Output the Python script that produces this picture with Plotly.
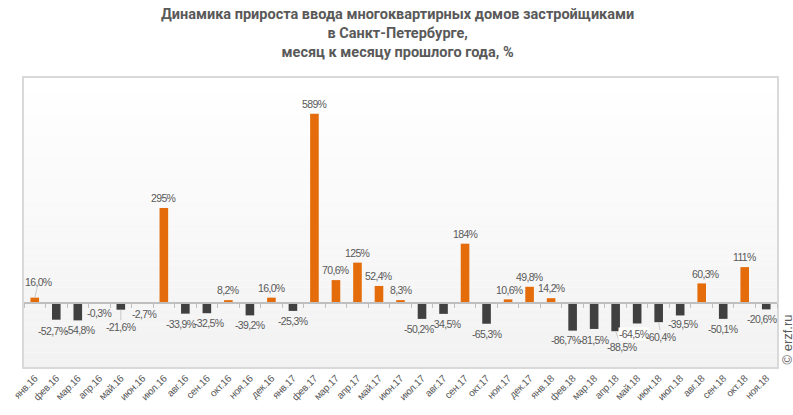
import plotly.graph_objects as go

# ---- data ----
months = ["янв", "фев", "мар", "апр", "май", "июн", "июл", "авг", "сен", "окт", "ноя", "дек"]
categories = [f"{m}.{y}" for y in ("16", "17") for m in months] + [f"{m}.18" for m in months[:11]]
values = [16.0, -52.7, -54.8, -0.3, -21.6, -2.7, 295, -33.9, -32.5, 8.2, -39.2, 16.0,
          -25.3, 589, 70.6, 125, 52.4, 8.3, -50.2, -34.5, 184, -65.3, 10.6, 49.8,
          14.2, -86.7, -81.5, -88.5, -64.5, -60.4, -39.5, 60.3, -50.1, 111, -20.6]

title_text = ("<b>Динамика прироста ввода многоквартирных домов застройщиками<br>"
              "в Санкт-Петербурге,<br>месяц к месяцу прошлого года, %</b>")
source_text = "© erzf.ru"

# ---- styling ----
ORANGE = "#E46C0A"
DARK = "#404040"
TXT = "#595959"
YMIN, YMAX = -200, 700
LABEL_FONT = "Liberation Sans, Arial"

def fmt(v):
    if abs(v) >= 100:
        s = f"{v:.0f}%"
    else:
        s = f"{v:.1f}%".replace(".", ",")
    return f'<span style="letter-spacing:-0.65px">{s}</span>'

# label nudges (pixel offsets: dx, dy, leader line) for manually moved labels
nudges = {0: (4, -16, True), 1: (-3.5, 11, False), 2: (2.5, 10, False), 4: (0, 17, True),
          5: (1.5, 10, False), 7: (-4, 10, False), 8: (2, 10, False), 18: (-3, 10, False),
          19: (2.5, 10, False), 22: (1, -9, False), 25: (-7, 9, False), 26: (-0.5, 11, False),
          27: (6, 16, True), 28: (-3.5, 11, False), 29: (2.6, 14.5, True),
          30: (2.6, 9, False), 31: (4, -9, False), 34: (-4, 10, False)}

colors = [ORANGE if v >= 0 else DARK for v in values]
tick_text = [f'<span style="letter-spacing:-0.3px">{c}</span>' for c in categories]

fig = go.Figure()
fig.add_trace(go.Bar(x=categories, y=values, marker=dict(color=colors, line=dict(width=0)),
                     width=0.4, hoverinfo="x+y"))
fig.add_trace(go.Scatter(x=categories, y=[0] * len(categories), xaxis="x2",
                         mode="markers", marker=dict(opacity=0), hoverinfo="skip"))

annotations = []
for i, (c, v) in enumerate(zip(categories, values)):
    if i in nudges:
        dx, dy, leader = nudges[i]
    else:
        dx, dy, leader = 0, (10 if v < 0 else -10), False
    annotations.append(dict(
        x=c, y=v, text=fmt(v), showarrow=True, ax=dx, ay=dy,
        arrowcolor="#bfbfbf" if leader else "rgba(0,0,0,0)", arrowwidth=0.8,
        arrowhead=0, standoff=0,
        bgcolor="white" if i == 28 else None,
        borderpad=0,
        font=dict(family=LABEL_FONT, size=10.5, color=TXT)))

annotations.append(dict(
    x=1.0, xref="paper", xanchor="left", y=0.0, yref="paper", yanchor="bottom",
    text=source_text, textangle=-90, showarrow=False,
    font=dict(family="Liberation Sans, Arial", size=13, color=TXT)))

annotations.append(dict(
    x=0.5, xref="paper", xanchor="center", xshift=-3.5, y=1.0, yref="paper",
    yanchor="bottom", yshift=15, text=title_text, showarrow=False, align="center",
    font=dict(family="Roboto", size=14.5, color=TXT)))

# gradient background bands
shapes = []
nb = 40
for k in range(nb):
    t = k / (nb - 1)
    g = int(round(242 + (255 - 242) * t))
    shapes.append(dict(type="rect", xref="paper", yref="paper", x0=0, x1=1,
                       y0=k / nb, y1=(k + 1) / nb, line=dict(width=0),
                       fillcolor=f"rgb({g},{g},{g})", layer="below"))

zero_pos = (0 - YMIN) / (YMAX - YMIN)

fig.update_layout(
    width=793, height=415,
    margin=dict(l=23, r=16, t=78, b=46),
    paper_bgcolor="white", plot_bgcolor="rgba(0,0,0,0)",
    showlegend=False,
    xaxis=dict(type="category", categoryorder="array", categoryarray=categories,
               range=[-0.5, len(categories) - 0.5],
               tickmode="array", tickvals=categories, ticktext=tick_text,
               tickangle=-45, tickfont=dict(family=LABEL_FONT, size=10, color=TXT),
               showline=True, linecolor="#d9d9d9", linewidth=1.5, mirror=True,
               ticks="", showgrid=False, zeroline=False),
    xaxis2=dict(type="category", categoryorder="array", categoryarray=categories,
                range=[-0.5, len(categories) - 0.5], overlaying="x", anchor="free",
                position=zero_pos, side="bottom", showticklabels=False,
                ticks="outside", ticklen=4, tickcolor="#bfbfbf", tickwidth=1,
                tickson="boundaries", showline=True, linecolor="#bfbfbf", linewidth=1.5,
                showgrid=False, zeroline=False),
    yaxis=dict(range=[YMIN, YMAX], showticklabels=False, showgrid=False, zeroline=False,
               showline=True, linecolor="#d9d9d9", linewidth=1.5, mirror=True, ticks=""),
    annotations=annotations,
    shapes=shapes,
)

fig.write_html("out.html")
